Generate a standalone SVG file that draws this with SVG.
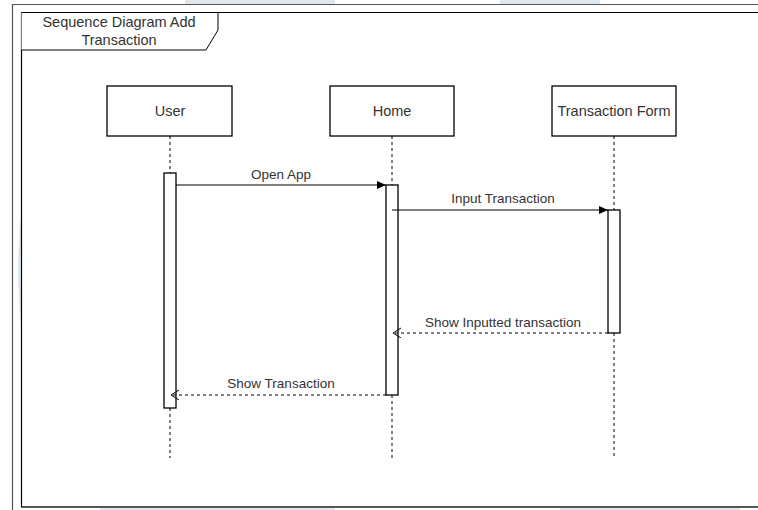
<svg xmlns="http://www.w3.org/2000/svg" width="758" height="510" viewBox="0 0 758 510">
  <style>
    .lbl { font-family: "Liberation Sans", Arial, sans-serif; font-size: 14.5px; fill: #333333; text-anchor: middle; }
    .mlbl { font-family: "Liberation Sans", Arial, sans-serif; font-size: 13.5px; fill: #333333; text-anchor: middle; }
    .box { fill: #ffffff; stroke: #000000; stroke-width: 1.3; }
    .life { stroke: #000000; stroke-width: 1; stroke-dasharray: 3 3; fill: none; }
    .msg { stroke: #000000; stroke-width: 1; fill: none; }
    .ret { stroke: #000000; stroke-width: 1; stroke-dasharray: 3 3; fill: none; }
  </style>
  <defs>
    <marker id="filled" markerWidth="10" markerHeight="10" refX="9" refY="4" orient="auto" markerUnits="userSpaceOnUse">
      <path d="M0,0 L9,4 L0,8 Z" fill="#000000"/>
    </marker>
    <marker id="open" markerWidth="10" markerHeight="12" refX="8" refY="5" orient="auto" markerUnits="userSpaceOnUse">
      <path d="M0,0 L8,5 L0,10" fill="none" stroke="#000000" stroke-width="1"/>
    </marker>
  </defs>

  <rect x="0" y="0" width="758" height="510" fill="#ffffff"/>

  <!-- faint background shapes in the page margins -->
  <g id="backdrop" fill="#dfe7ef">
    <rect x="185" y="0" width="150" height="4"/>
    <rect x="500" y="0" width="100" height="4"/>
    <rect x="100" y="507" width="235" height="3"/>
    <rect x="560" y="507" width="180" height="3"/>
    <path d="M22,205 Q14,270 22,335 Z"/>
  </g>

  <!-- page border -->
  <g id="page">
    <path d="M12.5,510 V4.5 H758" fill="none" stroke="#555555" stroke-width="1.2"/>
    <path d="M21.5,507 V12.5 H758" fill="none" stroke="#000000" stroke-width="1.2"/>
    <line x1="21" y1="507" x2="758" y2="507" stroke="#222222" stroke-width="1.4"/>
  </g>

  <!-- frame title tab -->
  <g id="frame-title">
    <path d="M21.5,12.5 H218 V30 L206,50 H21.5" fill="#ffffff" stroke="#000000" stroke-width="1"/>
    <text class="lbl" x="119" y="27">Sequence Diagram Add</text>
    <text class="lbl" x="119" y="45">Transaction</text>
  </g>

  <!-- lifelines -->
  <g id="lifelines">
    <line class="life" x1="170" y1="136" x2="170" y2="173"/>
    <line class="life" x1="170" y1="408" x2="170" y2="458"/>
    <line class="life" x1="392" y1="136" x2="392" y2="185"/>
    <line class="life" x1="392" y1="395" x2="392" y2="458"/>
    <line class="life" x1="614" y1="136" x2="614" y2="210"/>
    <line class="life" x1="614" y1="333" x2="614" y2="458"/>
  </g>

  <!-- participants -->
  <g id="user">
    <rect class="box" x="107" y="86" width="125" height="50"/>
    <text class="lbl" x="170" y="116">User</text>
    <rect class="box" x="164" y="173" width="12" height="235"/>
  </g>
  <g id="home">
    <rect class="box" x="330" y="86" width="124" height="50"/>
    <text class="lbl" x="392" y="116">Home</text>
    <rect class="box" x="386" y="185" width="12" height="210"/>
  </g>
  <g id="transaction-form">
    <rect class="box" x="552" y="86" width="124" height="50"/>
    <text class="lbl" x="614" y="116">Transaction Form</text>
    <rect class="box" x="608" y="210" width="12" height="123"/>
  </g>

  <!-- messages -->
  <g id="connectors">
    <line class="msg" x1="176" y1="185" x2="386" y2="185" marker-end="url(#filled)"/>
    <text class="mlbl" x="281" y="179">Open App</text>

    <line class="msg" x1="392" y1="210" x2="608" y2="210" marker-end="url(#filled)"/>
    <text class="mlbl" x="503" y="203">Input Transaction</text>

    <line class="ret" x1="608" y1="333" x2="393" y2="333" marker-end="url(#open)"/>
    <text class="mlbl" x="503" y="327">Show Inputted transaction</text>

    <line class="ret" x1="386" y1="395" x2="171" y2="395" marker-end="url(#open)"/>
    <text class="mlbl" x="281" y="388">Show Transaction</text>
  </g>
</svg>
